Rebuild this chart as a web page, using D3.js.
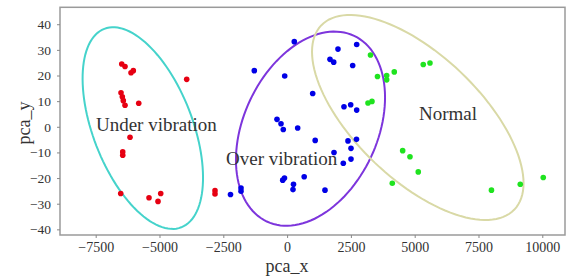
<!DOCTYPE html>
<html><head><meta charset="utf-8">
<script src="https://cdn.jsdelivr.net/npm/d3@7"></script>
<style>body{margin:0;background:#fff}svg{display:block}</style>
</head><body>
<script>
// ---- data ----
const underX = [-6480,-6351,-6116,-6026,-3934,-6508,-6457,-6418,-6351,-5814,-6155,-6441,-6441,-6520,-5411,-5058,-4952,-2825,-2825];
const underY = [24.5,23.5,21.1,21.9,18.5,13.3,11.7,10.2,8.4,9.2,-4.1,-9.8,-11.1,-26.0,-27.7,-29.1,-26.0,-24.9,-26.2];
const overX = [282,-1285,-94,1003,1994,2727,1681,1826,2570,2229,2492,2727,-396,-239,-149,415,1101,2386,2719,2504,1838,2504,2202,-172,-102,670,251,231,1485,-1806,-1806,-2218];
const overY = [33.2,21.9,19.8,13.0,30.3,32.1,26.3,25.2,23.9,7.8,8.6,6.5,2.9,1.2,-1.05,-0.5,-5.3,-5.5,-4.9,-8.4,-10.0,-12.6,-14.2,-20.8,-20.0,-19.5,-22.4,-24.5,-24.7,-23.9,-25.1,-26.4];
const normalX = [3268,5336,5599,3542,3902,3902,4200,3170,3326,4529,4815,5140,4122,8008,9137,10038];
const normalY = [28.0,24.3,24.9,19.6,20.0,18.3,21.4,9.3,9.9,-9.3,-11.7,-17.6,-22.0,-24.7,-22.4,-19.8];

const groupNames = ["Under vibration","Over vibration","Normal"];
// ellipse: centre (data) and two conjugate semi-axis vectors (data units)
const ellipseCentre = [[-5654,-0.5],[917,-0.74],[5121,3.63]];
const ellipseMajor = [[-1508,38.7],[1710,36.2],[-3785,35.9]];
const ellipseMinor = [[1815,7.0],[2368,-11.1],[1688,17.6]];
const labelAnchor = [[-7489,-1.6],[-2394,-14.9],[5168,2.65]];

const xTicks = [-7500,-5000,-2500,0,2500,5000,7500,10000];
const yTicks = [-40,-30,-20,-10,0,10,20,30,40];

// ---- styles ----
const pointColors = ["#e60012","#0000e6","#1fe31f"];
const ellipseColors = ["#45d3cb","#7d35dc","#d9d9a6"];

const W = 568, H = 279;
const m = {left:60, top:7.3, right:3, bottom:44};
const svg = d3.select("body").append("svg").attr("width",W).attr("height",H);

const x = d3.scaleLinear().domain([-8899,10890]).range([m.left, W-m.right]);
const y = d3.scaleLinear().domain([-42.2,46.6]).range([H-m.bottom, m.top]);

const serif = "'Liberation Serif','Times New Roman',serif";

// frame
svg.append("rect").attr("x",m.left).attr("y",m.top)
  .attr("width",W-m.right-m.left).attr("height",H-m.bottom-m.top)
  .attr("fill","#fff").attr("stroke","#9a9a9a").attr("stroke-width",1.5);

// axes
const xa = svg.append("g").attr("transform",`translate(0,${H-m.bottom})`)
  .call(d3.axisBottom(x).tickValues(xTicks).tickSize(3).tickPadding(4).tickFormat(d3.format("d")));
const ya = svg.append("g").attr("transform",`translate(${m.left},0)`)
  .call(d3.axisLeft(y).tickValues(yTicks).tickSize(3).tickPadding(6).tickFormat(d3.format("d")));
[xa,ya].forEach(a=>{
  a.select(".domain").remove();
  a.selectAll(".tick line").attr("stroke","#888");
  a.selectAll("text").attr("fill","#333").style("font-family",serif).style("font-size","14px");
});
ya.selectAll("text").style("font-size","13.5px");

// ellipses
const groupsE = groupNames.map((g,i)=>({c:ellipseCentre[i],u:ellipseMajor[i],v:ellipseMinor[i],col:ellipseColors[i]}));
const ts = d3.range(0,361,3).map(d=>d*Math.PI/180);
const line = d3.line().curve(d3.curveLinearClosed);
svg.append("g").selectAll("path").data(groupsE).join("path")
  .attr("d",e=>line(ts.map(t=>[x(e.c[0]+Math.cos(t)*e.u[0]+Math.sin(t)*e.v[0]), y(e.c[1]+Math.cos(t)*e.u[1]+Math.sin(t)*e.v[1])])))
  .attr("fill","none").attr("stroke",d=>d.col).attr("stroke-width",2);

// points
const sets = [[underX,underY],[overX,overY],[normalX,normalY]];
sets.forEach((s,i)=>{
  svg.append("g").selectAll("circle").data(s[0].map((v,j)=>[v,s[1][j]])).join("circle")
    .attr("cx",d=>x(d[0])).attr("cy",d=>y(d[1])).attr("r",2.8).attr("fill",pointColors[i]);
});

// group labels
svg.append("g").selectAll("text").data(groupNames).join("text")
  .attr("x",(d,i)=>x(labelAnchor[i][0])).attr("y",(d,i)=>y(labelAnchor[i][1]))
  .attr("fill","#333").style("font-family",serif).style("font-size","19px").text(d=>d);

// axis titles
svg.append("text").attr("x",287).attr("y",272).attr("text-anchor","middle")
  .attr("fill","#333").style("font-family",serif).style("font-size","18px").text("pca_x");
svg.append("text").attr("transform","translate(30,123) rotate(-90)").attr("text-anchor","middle")
  .attr("fill","#333").style("font-family",serif).style("font-size","18px").text("pca_y");
</script>
</body></html>
